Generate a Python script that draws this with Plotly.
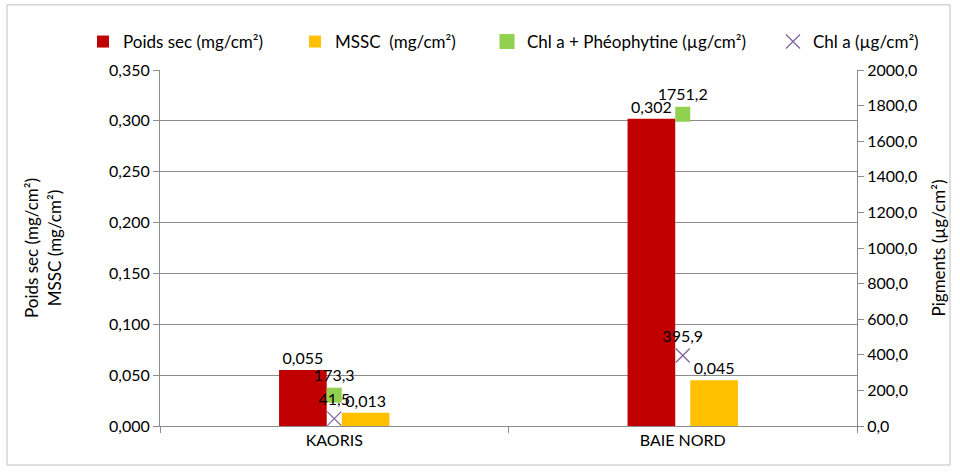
import plotly.graph_objects as go

categories = ["KAORIS", "BAIE NORD"]
poids_sec = [0.055, 0.302]
mssc = [0.013, 0.045]
chl_pheo = [173.3, 1751.2]
chl_a = [41.5, 395.9]

left_ticks = [0, 0.05, 0.10, 0.15, 0.20, 0.25, 0.30, 0.35]
right_ticks = [0, 200, 400, 600, 800, 1000, 1200, 1400, 1600, 1800, 2000]

def fmt(v, d):
    return f"{v:.{d}f}".replace(".", ",")

FONT = "Lato, Carlito, Calibri, sans-serif"
LBL = dict(color="black", size=16, family=FONT)

fig = go.Figure()
fig.add_trace(go.Bar(
    x=categories, y=poids_sec, name="Poids sec (mg/cm²)", legend="legend",
    marker=dict(color="#C00000", line=dict(width=0)),
    text=[fmt(v, 3) for v in poids_sec], textposition="outside",
    textfont=LBL, cliponaxis=False, yaxis="y"))
fig.add_trace(go.Bar(
    x=categories, y=mssc, name="MSSC  (mg/cm²)", legend="legend2",
    marker=dict(color="#FFC000", line=dict(width=0)),
    text=[fmt(v, 3) for v in mssc], textposition="outside",
    textfont=LBL, cliponaxis=False, yaxis="y"))
fig.add_trace(go.Scatter(
    x=categories, y=chl_pheo, name="Chl a + Phéophytine (µg/cm²)", legend="legend3",
    mode="markers+text",
    marker=dict(symbol="square", size=15, color="#92D050"),
    text=[fmt(v, 1) for v in chl_pheo], textposition="top center",
    textfont=LBL, cliponaxis=False, yaxis="y2"))
fig.add_trace(go.Scatter(
    x=categories, y=chl_a, name="Chl a (µg/cm²)", legend="legend4",
    mode="markers+text",
    marker=dict(symbol="x-thin", size=14, color="#8064A2",
                line=dict(color="#8064A2", width=1.3)),
    text=[fmt(v, 1) for v in chl_a], textposition="top center",
    textfont=LBL, cliponaxis=False, yaxis="y2"))

def leg(text_start_px):
    return dict(orientation="h", xref="container", yref="container",
                x=(text_start_px - 40) / 960, y=1 - 42 / 472, xanchor="left", yanchor="middle",
                font=dict(size=17, family=FONT), itemwidth=30,
                bgcolor="rgba(0,0,0,0)", borderwidth=0)

fig.update_layout(
    width=960, height=472,
    margin=dict(l=160, r=103, t=70, b=46, autoexpand=False),
    paper_bgcolor="white", plot_bgcolor="white",
    font=dict(family=FONT, size=16, color="black"),
    separators=", ",
    barmode="group", bargap=0.64, bargroupgap=0.24,
    showlegend=True,
    legend=leg(123), legend2=leg(335), legend3=leg(527), legend4=leg(813),
    xaxis=dict(type="category", showline=True, linecolor="#8C8C8C", linewidth=1,
               ticks="outside", tickson="boundaries", ticklen=6, tickcolor="#8C8C8C",
               showgrid=False, tickfont=dict(size=16, family=FONT)),
    yaxis=dict(range=[0, 0.35], tickvals=left_ticks, tickformat=".3f",
               showline=True, linecolor="#8C8C8C", linewidth=1,
               ticks="outside", ticklen=6, tickcolor="#8C8C8C",
               showgrid=True, gridcolor="#8C8C8C", gridwidth=1, zeroline=False,
               title=dict(text="Poids sec (mg/cm²)<br>MSSC (mg/cm²)", standoff=43,
                          font=dict(size=17, family=FONT)),
               tickfont=dict(size=16, family=FONT)),
    yaxis2=dict(range=[0, 2000], tickvals=right_ticks, tickformat=".1f",
                overlaying="y", side="right",
                showline=True, linecolor="#8C8C8C", linewidth=1,
                ticks="outside", ticklen=6, tickcolor="#8C8C8C",
                showgrid=False, zeroline=False,
                title=dict(text="Pigments (µg/cm²)", standoff=16,
                           font=dict(size=17, family=FONT)),
                tickfont=dict(size=16, family=FONT)),
)

fig.add_shape(type="rect", xref="paper", yref="paper",
              x0=-0.2195, x1=1.1334, y0=-0.1096, y1=1.183,
              line=dict(color="#BFBFBF", width=1), fillcolor="rgba(0,0,0,0)", layer="below")

fig.write_html("out.html", config={"displayModeBar": False},
               post_script="document.body.style.margin='0px';")
